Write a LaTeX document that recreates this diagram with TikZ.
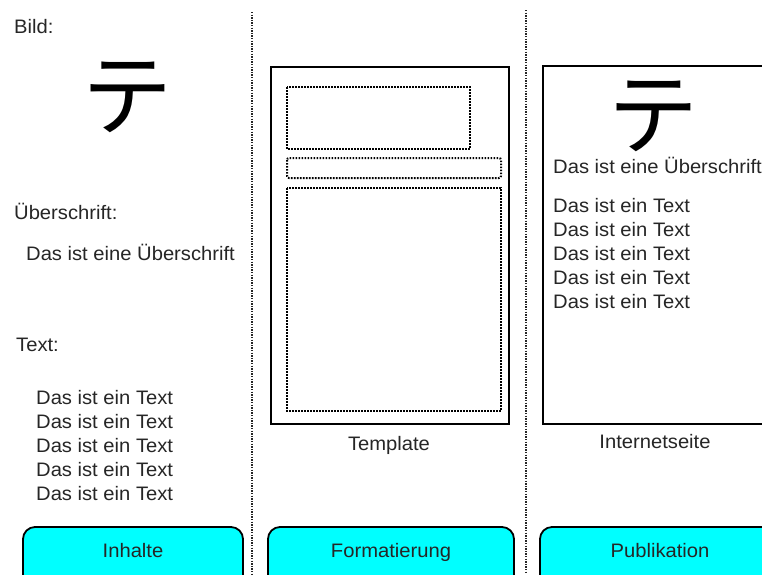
\documentclass[tikz,border=0pt]{standalone}
\usepackage{fontspec}
\setmainfont[FakeStretch=1.035]{Liberation Sans}
\newfontfamily\jpfont{Noto Sans CJK JP}
\definecolor{phasecyan}{RGB}{0,255,255}
\begin{document}
\begin{tikzpicture}[x=1pt,y=-1pt,
  txt/.style={font=\fontsize{19.5}{24}\selectfont, text=black!85, inner sep=0pt},
  kana/.style={font=\jpfont\fontsize{90}{90}\selectfont, inner sep=0pt},
  sep/.style={draw=black!85, line width=2.2pt, dash pattern=on 1.4pt off 1.2pt},
  frame/.style={draw=black, line width=2.2pt},
  slot/.style={draw=black, line width=2pt, dash pattern=on 1.6pt off 1.4pt},
  phase/.style={draw=black, line width=1.8pt, fill=phasecyan, rounded corners=12pt}]
\useasboundingbox (0,0) rectangle (762,574);
\clip (0,0) rectangle (762,574);
\fill[white] (0,0) rectangle (762,574);

% separators
\draw[sep] (252,12) -- (252,574);
\draw[sep] (526,10) -- (526,574);

% left column
\node[txt, anchor=base west] (bild) at (14,33) {Bild:};
\node[kana] (kanaL) at (127,97) {テ};
\node[txt, anchor=base west] (ueb) at (14,219) {Überschrift:};
\node[txt, anchor=base west] (uebtxt) at (26,260) {Das ist eine Überschrift};
\node[txt, anchor=base west] (textlbl) at (16,351) {Text:};
\foreach \i/\yy in {1/404,2/428,3/452,4/476,5/500}
  \node[txt, anchor=base west] (lt\i) at (36,\yy) {Das ist ein Text};

% template column
\draw[frame] (271,67) rectangle (509,424);
\draw[slot] (287,87) rectangle (470,149);
\draw[slot, rounded corners=2pt] (287,158) rectangle (501,178);
\draw[slot] (287,188) rectangle (501,411);
\node[txt, anchor=base] (tmpl) at (389,450) {Template};

% internet column
\draw[frame] (543,66) rectangle (800,424);
\node[kana] (kanaR) at (653,116) {テ};
\node[txt, anchor=base west] (rueb) at (553,173) {Das ist eine Überschrift};
\foreach \i/\yy in {1/212,2/236,3/260,4/284,5/308}
  \node[txt, anchor=base west] (rt\i) at (553,\yy) {Das ist ein Text};
\node[txt, anchor=base] (inet) at (655,448) {Internetseite};

% phase boxes
\draw[phase] (23,527) rectangle (243,600);
\node[txt, anchor=base] (inh) at (133,557) {Inhalte};
\draw[phase] (268,527) rectangle (514,600);
\node[txt, anchor=base] (form) at (391,557) {Formatierung};
\draw[phase] (540,527) rectangle (800,600);
\node[txt, anchor=base] (pub) at (660,557) {Publikation};
\end{tikzpicture}
\end{document}
